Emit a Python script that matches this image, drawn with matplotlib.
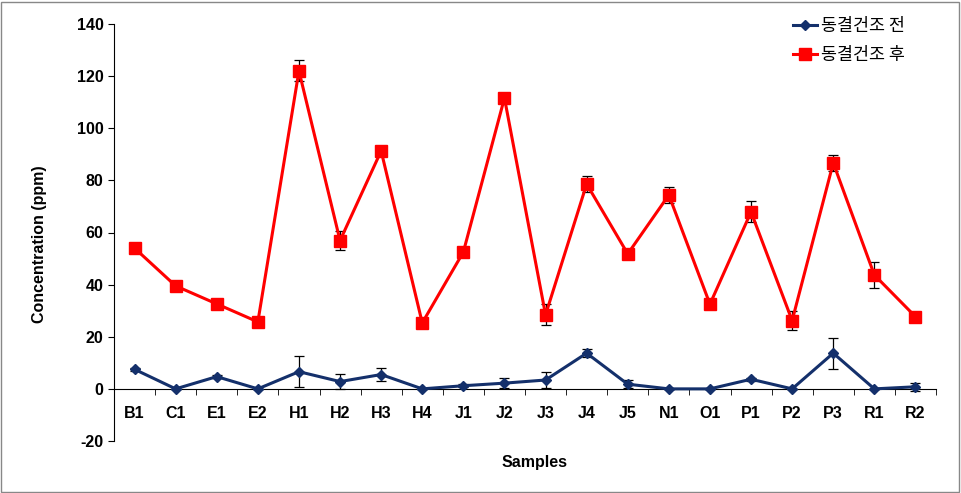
import matplotlib.pyplot as plt
from matplotlib.lines import Line2D
from matplotlib.patches import Rectangle
from matplotlib.ticker import FixedLocator

samples = ['B1', 'C1', 'E1', 'E2', 'H1', 'H2', 'H3', 'H4', 'J1', 'J2',
           'J3', 'J4', 'J5', 'N1', 'O1', 'P1', 'P2', 'P3', 'R1', 'R2']

# before freeze drying
before = [7.5, 0.0, 4.7, 0.0, 6.6, 2.8, 5.5, 0.0, 1.2, 2.2,
          3.4, 13.7, 1.8, 0.0, 0.0, 3.7, 0.0, 13.7, 0.0, 0.8]
before_err = [0.5, 0.0, 0.5, 0.0, 6.0, 3.0, 2.4, 0.0, 0.5, 2.0,
              3.0, 1.5, 1.5, 0.0, 0.0, 0.5, 0.0, 6.0, 0.0, 1.5]

# after freeze drying
after = [54.0, 39.5, 32.6, 25.7, 122.0, 56.9, 91.3, 25.3, 52.5, 111.6,
         28.4, 78.6, 51.8, 74.4, 32.5, 67.9, 26.2, 86.7, 43.7, 27.7]
after_err = [0.5, 0.5, 0.5, 0.5, 4.0, 3.7, 0.5, 0.5, 0.5, 0.5,
             4.0, 3.0, 1.5, 3.0, 0.5, 4.0, 3.5, 3.0, 5.0, 0.5]

label_before = '동결건조 전'
label_after = '동결건조 후'

red = '#ff0000'
navy = '#14306b'

plt.rcParams['font.family'] = ['Liberation Sans', 'Noto Sans CJK KR', 'DejaVu Sans']
plt.rcParams['axes.unicode_minus'] = False

fig = plt.figure(figsize=(9.61, 4.93), dpi=100)
ax = fig.add_axes([114 / 961, 1 - 441 / 493, 822 / 961, 417 / 493])

x = list(range(len(samples)))

ax.errorbar(x, after, yerr=after_err, color=red, lw=2.2, marker='s', markersize=8,
            ecolor='black', elinewidth=0.9, capsize=3.5, capthick=0.9, zorder=3)
ax.errorbar(x, before, yerr=before_err, color=navy, lw=2.2, marker='D', markersize=5.5,
            ecolor='black', elinewidth=0.9, capsize=3.5, capthick=0.9, zorder=3)

ax.set_xlim(-0.5, len(samples) - 0.5)
ax.set_ylim(-20, 140)
ax.set_yticks(range(-20, 141, 20))

ax.spines['top'].set_visible(False)
ax.spines['right'].set_visible(False)
ax.spines['bottom'].set_position(('data', 0))

ax.set_xticks(x)
ax.set_xticklabels(samples, fontsize=11.5, fontweight='bold')
ax.xaxis.set_minor_locator(FixedLocator([i + 0.5 for i in range(len(samples))]))
ax.tick_params(axis='x', which='major', length=0, pad=12)
ax.tick_params(axis='x', which='minor', length=4, direction='out')
ax.tick_params(axis='y', length=4, direction='out', labelsize=11.5)
for t in ax.get_yticklabels():
    t.set_fontweight('bold')

fig.text(40 / 961, 1 - 244 / 493, 'Concentration (ppm)', rotation=90, ha='center', va='center',
         fontsize=11.5, fontweight='bold')
fig.text(535 / 961, 1 - 463 / 493, 'Samples', ha='center', va='center',
         fontsize=11.5, fontweight='bold')

handles = [Line2D([], [], color=navy, lw=2.2, marker='D', markersize=5.5),
           Line2D([], [], color=red, lw=2.2, marker='s', markersize=8)]
leg = fig.legend(handles, [label_before, label_after], loc='upper left',
                 bbox_to_anchor=(777 / 961, 1 - 1 / 493), frameon=False, fontsize=12.5,
                 handlelength=1.4, handletextpad=0.25, labelspacing=0.65)
for t in leg.get_texts():
    t.set_family(['Noto Sans CJK KR', 'DejaVu Sans'])

fig.patches.append(Rectangle((1 / 961, 1 / 493), 958 / 961, 490 / 493, transform=fig.transFigure,
                             fill=False, edgecolor='#888888', lw=1))

fig.savefig('out.png', dpi=100)
